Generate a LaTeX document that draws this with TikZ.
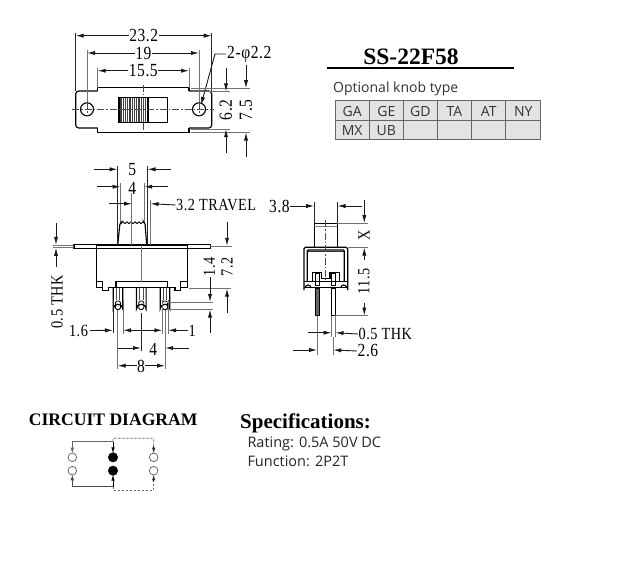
\documentclass[tikz,border=0pt]{standalone}
\usepackage{fontspec}
\setmainfont{Liberation Serif}
\newfontfamily\knobfont{Open Sans}
\newfontfamily\dimfont[FakeStretch=0.84,LetterSpace=3]{Liberation Serif}
\usetikzlibrary{arrows.meta}
\tikzset{
  part/.style={line width=1.15pt,black},
  thin/.style={line width=0.8pt,black!85},
  ext/.style={line width=0.9pt,black!55},
  dimline/.style={line width=0.9pt,black!90,-{Latex[length=8pt,width=4.2pt]}},
  dimboth/.style={line width=0.9pt,black!90,{Latex[length=8pt,width=4.2pt]}-{Latex[length=8pt,width=4.2pt]}},
  center/.style={line width=0.7pt,black!70,dash pattern=on 7pt off 2pt on 1.5pt off 2pt},
  dimtext/.style={font=\dimfont\fontsize{18.5}{18}\selectfont,inner sep=0.5pt,fill=white},
  dimtextb/.style={font=\dimfont\fontsize{17}{17}\selectfont,inner sep=0.5pt,fill=white},
  heading/.style={font=\bfseries\fontsize{17.6}{17}\selectfont,inner sep=0pt},
  knobtext/.style={font=\knobfont\fontsize{14}{14}\selectfont,text=black!80,inner sep=0pt},
  smalltext/.style={font=\knobfont\fontsize{14.5}{14}\selectfont,text=black!85,inner sep=0pt,anchor=west},
  smallarrow/.style={line width=0.9pt,-{Latex[length=6pt,width=3.6pt]}}
}
\begin{document}
\begin{tikzpicture}[x=1pt,y=-1pt]
\useasboundingbox (0,0) rectangle (617,567);
\fill[white] (0,0) rectangle (617,567);

% ---------- top view ----------
\draw[part,rounded corners=3pt] (97.7,91) -- (75.7,91) -- (75.7,128) -- (97.7,128);
\draw[part] (97.7,91) -- (97.7,87.7) -- (189,87.7) -- (189,91);
\draw[part] (97.7,128) -- (97.7,132.3) -- (189,132.3) -- (189,128);
\draw[part,rounded corners=3pt] (189,91) -- (211.7,91) -- (211.7,128) -- (189,128);
\draw[part] (87,109.3) circle (6.5);
\draw[part] (199,109.3) circle (6.5);
\draw[part] (119,97.7) rectangle (167.7,122.3);
\draw[part] (148,97.7) -- (148,122.3);
\foreach \h in {120,121.8,...,147}{\draw[line width=0.7pt,black!75] (\h,98) -- (\h,122);}
\draw[center] (72,109.3) -- (214,109.3);
\draw[center] (143.3,85) -- (143.3,135);
\draw[center] (87,102) -- (87,116);
\draw[center] (199,102) -- (199,116);
% top view dims
\draw[thin] (75.7,32.7) -- (75.7,91);
\draw[thin] (211.7,32.7) -- (211.7,91);
\draw[ext] (87,50) -- (87,102);
\draw[ext] (199,50) -- (199,102);
\draw[ext] (97.7,68) -- (97.7,88);
\draw[ext] (189,68) -- (189,88);
\draw[dimboth] (75.7,35.7) -- (211.7,35.7);
\draw[dimboth] (87,53) -- (199,53);
\draw[dimboth] (97.7,70.7) -- (189,70.7);
\node[dimtext] (t232) at (143.7,36) {23.2};
\node[dimtext] (t19) at (143.3,53.5) {19};
\node[dimtext] (t155) at (143.3,71) {15.5};
\node[dimtext,anchor=west,fill=none] (tphi) at (226.5,54.5) {2-φ2.2};
\draw[dimline] (226,54) -- (215,54) -- (201,105);
% right dims top
\draw[ext] (191,88.3) -- (250,88.3);
\draw[ext] (191,91.7) -- (230,91.7);
\draw[ext] (191,132.3) -- (250,132.3);
\draw[ext] (191,129) -- (230,129);
\draw[dimline] (226,68) -- (226,91.5);
\draw[dimline] (246,65) -- (246,88.2);
\draw[dimline] (226,153) -- (226,129.2);
\draw[dimline] (246,157) -- (246,132.5);
\node[dimtext,rotate=90,fill=none] (t62) at (226,110) {6.2};
\node[dimtext,rotate=90,fill=none] (t75) at (246,110) {7.5};

% ---------- title + table ----------
\node[font=\bfseries\fontsize{23.5}{23}\selectfont,inner sep=0pt] (title) at (411,57) {SS-22F58};
\draw[line width=2pt,black] (327,67.7) -- (514,67.7);
\node[knobtext,anchor=west] (opt) at (333,89) {Optional knob type};
\fill[black!11] (335,100.7) rectangle (540.7,139.3);
\draw[line width=1pt,black!60] (335,100.7) rectangle (540.7,139.3);
\draw[line width=0.6pt,black!60] (335,120) -- (540.7,120);
\foreach \c in {369.3,403.3,437.3,471.7,505.7}{\draw[line width=0.6pt,black!60] (\c,100.7) -- (\c,139.3);}
\node[knobtext] (ga) at (352.2,111.3) {GA};
\node[knobtext] (ge) at (386.3,111.3) {GE};
\node[knobtext] (gd) at (420.3,111.3) {GD};
\node[knobtext] (ta) at (454.5,111.3) {TA};
\node[knobtext] (at) at (488.7,111.3) {AT};
\node[knobtext] (ny) at (523.2,111.3) {NY};
\node[knobtext] (mx) at (352.2,130.3) {MX};
\node[knobtext] (ub) at (386.3,130.3) {UB};

% ---------- side view ----------
\draw[part,fill=white] (74,244.5) rectangle (210.7,248.3);
\draw[part] (96.7,245) -- (96.7,287.3) -- (102.7,287.3) -- (102.7,290.7) -- (108.3,290.7) -- (108.3,287.3) -- (175,287.3) -- (175,290.7) -- (180.7,290.7) -- (180.7,287.3) -- (187.3,287.3) -- (187.3,245);
\draw[part,fill=white] (96.7,245) -- (187.3,245);
\draw[part] (96.7,281.7) -- (102.7,281.7) -- (102.7,287.3);
\draw[part] (187.3,281.7) -- (180.7,281.7) -- (180.7,287.3);
\draw[part] (116,287.3) -- (116,281.7) -- (167.3,281.7) -- (167.3,287.3);
% knob
\draw[part,rounded corners=1.5pt] (117.7,245) -- (120,223) -- (120.7,222.5);
\draw[part,rounded corners=1.5pt] (146.7,245) -- (145,223) -- (144.5,222.5);
\draw[line width=0.9pt,smooth] plot[domain=120.7:144.7,samples=49] (\x,{222.7+0.8*sin(\x*90)});
\draw[ext] (131.7,193) -- (131.7,245);
\draw[ext] (141.7,245) -- (141.7,282);
% pins
\foreach \p in {118,141.3,165}{
  \draw[part] (\p-4.8,288) -- (\p-4.8,309) arc[start angle=180,end angle=360,radius=4.8] -- (\p+4.8,288);
  \draw[line width=0.7pt,black!70] (\p-1.8,288) -- (\p-1.8,300);
  \draw[line width=0.7pt,black!70] (\p+1.8,288) -- (\p+1.8,300);
  \draw[line width=0.8pt,rounded corners=1.5pt] (\p-2.5,301) rectangle (\p+2.5,309.5);
}
% side dims upper
\draw[thin] (117.7,166) -- (117.7,245);
\draw[thin] (147.3,166) -- (147.3,245);
\draw[ext] (120.7,183) -- (120.7,222);
\draw[ext] (144,183) -- (144,222);
\draw[ext] (150.3,200) -- (150.3,245);
\draw[dimline] (94,169.3) -- (117.5,169.3);
\draw[dimline] (170.7,169.3) -- (147.5,169.3);
\draw[dimline] (97.3,186.7) -- (120.5,186.7);
\draw[dimline] (167.7,186.7) -- (144.2,186.7);
\draw[dimline] (109,203.7) -- (132,203.7);
\node[dimtext,fill=none] (t5) at (132.3,170) {5};
\node[dimtext,fill=none] (t4a) at (132.3,188) {4};
\node[dimtextb,anchor=west,fill=none] (t32) at (175.5,205) {3.2 TRAVEL};
\draw[dimline] (t32.west) -- (150.5,203.7);
% 0.5 THK left
\draw[ext] (53,245) -- (74,245);
\draw[ext] (53,247.6) -- (74,247.6);
\draw[dimline] (56,223) -- (56,244.8);
\draw[dimline] (56,267) -- (56,247.8);
\node[dimtextb,rotate=90,fill=none] (thk) at (57,302) {0.5 THK};
% 1.4 / 7.2
\draw[ext] (210,246) -- (232,246);
\draw[ext] (189,288.3) -- (231,288.3);
\draw[dimline] (227,222) -- (227,245.8);
\draw[dimline] (227,312.7) -- (227,288.5);
\draw[ext] (167,302.3) -- (213,302.3);
\draw[ext] (167,309.3) -- (213,309.3);
\draw[dimline] (210,277) -- (210,302);
\draw[dimline] (210,333) -- (210,309.5);
\node[dimtextb,rotate=90,fill=none] (t14) at (209.5,267) {1.4};
\node[dimtextb,rotate=90,fill=none] (t72) at (227,267) {7.2};
% side dims lower
\draw[thin] (113.3,300) -- (113.3,333);
\draw[ext] (123,300) -- (123,334);
\draw[ext] (162.5,300) -- (162.5,334);
\draw[ext] (168,300) -- (168,334);
\draw[ext] (117.7,310) -- (117.7,369);
\draw[ext] (165,310) -- (165,369);
\draw[thin] (141.3,313) -- (141.3,351);
\node[dimtextb,fill=none] (t16) at (78.5,331) {1.6};
\draw[dimline] (t16.east) ++(1.5,-0.5) -- (113,330.3);
\draw[dimboth] (123,330.3) -- (162.3,330.3);
\draw[dimline] (188,330.3) -- (168.2,330.3);
\node[dimtextb,fill=none] (t1) at (192.3,331) {1};
\draw[dimline] (118,348) -- (141,348);
\draw[dimline] (189,348) -- (165.2,348);
\node[dimtext,fill=none] (t4b) at (153.3,349) {4};
\draw[dimboth] (117.7,365.7) -- (165,365.7);
\node[dimtext] (t8) at (141,366.5) {8};

% ---------- front view ----------
\draw[part] (314.3,247.3) -- (314.3,223.3) -- (337.3,223.3) -- (337.3,247.3);
\draw[line width=0.8pt,black!50] (314.3,226) -- (337.3,226);
\draw[part,rounded corners=1.5pt] (304,290) -- (304,247.3) -- (347.7,247.3) -- (347.7,290);
\draw[part,rounded corners=1pt] (307.3,281.7) -- (307.3,250) -- (344.3,250) -- (344.3,281.7);
\draw[line width=1.2pt,black!80] (308,251.7) -- (344,251.7);
\draw[part] (304,281.7) -- (347.7,281.7);
\draw[part] (304,287.7) -- (347.7,287.7);
\draw[part] (312.3,281.7) -- (312.3,272.3) -- (321.7,272.3) -- (321.7,278.3) -- (330,278.3) -- (330,272.3) -- (339.3,272.3) -- (339.3,281.7);
\draw[line width=0.7pt] (315.7,273) rectangle (319,285);
\draw[line width=0.7pt] (331.7,273) rectangle (335,285);
\draw[part] (305,288) arc[start angle=180,end angle=360,radius=3];
\draw[part] (340.7,288) arc[start angle=180,end angle=360,radius=3];
\draw[center] (325.7,220) -- (325.7,280);
% pins
\fill[black!60] (315.7,288) rectangle (319.3,315.7);
\draw[line width=0.7pt] (315.7,288) rectangle (319.3,315.7);
\draw[line width=0.8pt] (331.7,288) rectangle (335.3,315.7);
% front dims
\draw[thin] (314.3,202) -- (314.3,223);
\draw[thin] (337.3,202) -- (337.3,223);
\node[dimtext,fill=none] (t38) at (279.5,206) {3.8};
\draw[dimline] (t38.east) -- (314.1,206);
\draw[dimline] (361.7,206) -- (337.5,206);
\draw[ext] (337.3,223.3) -- (368,223.3);
\draw[ext] (347.7,247.3) -- (368,247.3);
\draw[ext] (335.3,315.7) -- (368,315.7);
\draw[dimline] (364.3,200) -- (364.3,223.1);
\node[dimtextb,rotate=90,fill=none] (tx) at (364,235.7) {X};
\draw[dimline] (364.3,260) -- (364.3,247.5);
\node[dimtextb,rotate=90,fill=none] (t115) at (364,281.7) {11.5};
\draw[dimline] (364.3,303) -- (364.3,315.5);
\draw[ext] (317.3,316) -- (317.3,355);
\draw[ext] (331.7,316) -- (331.7,337);
\draw[ext] (335.3,316) -- (335.3,337);
\draw[ext] (333,337) -- (333,355);
\node[dimtextb,anchor=west,fill=none] (thk2) at (358,334) {0.5 THK};
\draw[dimline] (307.7,332.7) -- (331.5,332.7);
\draw[dimline] (thk2.west) -- (335.5,332.7);
\node[dimtext,anchor=west,fill=none] (t26) at (357,351) {2.6};
\draw[dimline] (293.3,350) -- (317.1,350);
\draw[dimline] (t26.west) -- (333.2,350);

% ---------- circuit ----------
\node[heading] (circ) at (113.2,419.3) {CIRCUIT DIAGRAM};
\tikzset{opencirc/.style={draw=black!65,line width=0.7pt,circle,minimum size=8.6pt,inner sep=0pt},
         fullcirc/.style={draw=black,fill=black,circle,minimum size=9.5pt,inner sep=0pt}}
\node[opencirc] (l1) at (72.3,457.3) {};
\node[opencirc] (l2) at (72.3,470.7) {};
\node[fullcirc] (m1) at (113,457.3) {};
\node[fullcirc] (m2) at (113,470.7) {};
\node[opencirc] (r1) at (153.7,457.3) {};
\node[opencirc] (r2) at (153.7,470.7) {};
\coordinate (tl) at (72.3,441.7);
\coordinate (tm) at (113,441.7);
\coordinate (tmd) at (113,438.3);
\coordinate (tr) at (153.7,438.3);
\coordinate (bl) at (72.3,486.7);
\coordinate (bm) at (113,486.7);
\coordinate (bmd) at (113,490);
\coordinate (br) at (153.7,490);
\draw[smallarrow,black!60] (tm) -- (tl) -- ([yshift=-1pt]l1.north);
\draw[smallarrow,black] (tm) -- ([yshift=-1pt]m1.north);
\draw[smallarrow,black!70] (bm) -- (bl) -- ([yshift=1pt]l2.south);
\draw[smallarrow,black] (bm) -- ([yshift=1pt]m2.south);
\draw[line width=0.7pt,black!60,dash pattern=on 2.5pt off 1.5pt,rounded corners=1pt] (tm) -- (tmd) -- (tr) -- (153.7,446);
\draw[smallarrow,black!80] (153.7,446) -- ([yshift=-1pt]r1.north);
\draw[line width=0.7pt,black!60,dash pattern=on 2.5pt off 1.5pt] (bm) -- (bmd) -- (br) -- (153.7,482);
\draw[smallarrow,black!80] (153.7,482) -- ([yshift=1pt]r2.south);

% ---------- specifications ----------
\node[font=\bfseries\fontsize{21}{21}\selectfont,inner sep=0pt,anchor=west] (spec) at (240,423) {Specifications:};
\node[smalltext] (rate) at (247.3,444.3) {Rating: 0.5A 50V DC};
\node[smalltext] (func) at (247.3,461.5) {Function: 2P2T};
\end{tikzpicture}
\end{document}
